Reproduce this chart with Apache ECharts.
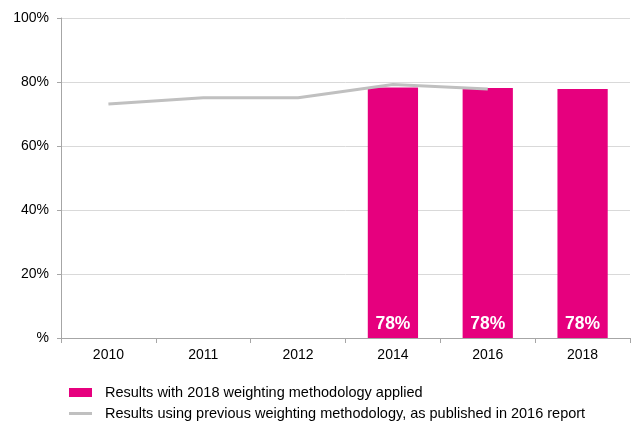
<!DOCTYPE html>
<html><head><meta charset="utf-8">
<script src="https://cdn.jsdelivr.net/npm/echarts@6/dist/echarts.min.js"></script>
<style>html,body{margin:0;padding:0;background:#fff}#c{width:631px;height:421px}</style>
</head><body><div id="c"></div>
<script>
var categories = ['2010','2011','2012','2014','2016','2018'];
var barValues = [null, null, null, 78.3, 78.1, 77.8];
var barLabels = ['', '', '', '78%', '78%', '78%'];
var lineValues = [73.1, 75.1, 75.1, 79.2, 77.8, null];
var yTicks = {0:'%',20:'20%',40:'40%',60:'60%',80:'80%',100:'100%'};
var barName = 'Results with 2018 weighting methodology applied';
var lineName = 'Results using previous weighting methodology, as published in 2016 report';

var font = 'Liberation Sans, Arial, sans-serif';
var chart = echarts.init(document.getElementById('c'));
chart.setOption({
  animation: false,
  textStyle: {fontFamily: font},
  grid: {left: 61, right: 1, top: 18, bottom: 83},
  legend: [
    {
      left: 64, top: 380, itemGap: 8, itemWidth: 23, itemHeight: 9,
      textStyle: {fontSize: 14.5, color: '#000', fontFamily: font, padding: [0, 0, 0, 8]},
      data: [{name: barName, icon: 'rect'}]
    },
    {
      left: 64, top: 401, itemGap: 8, itemWidth: 23, itemHeight: 3,
      textStyle: {fontSize: 14.5, color: '#000', fontFamily: font, padding: [0, 0, 0, 8]},
      data: [{name: lineName, icon: 'rect'}]
    }
  ],
  xAxis: {
    type: 'category', data: categories,
    axisLine: {lineStyle: {color: '#a6a6a6', width: 1}},
    axisTick: {show: true, length: 5, lineStyle: {color: '#a6a6a6'}},
    axisLabel: {color: '#000', fontSize: 14, margin: 10}
  },
  yAxis: {
    type: 'value', min: 0, max: 100, interval: 20,
    axisLine: {show: true, lineStyle: {color: '#a6a6a6'}},
    axisTick: {show: true, inside: false, length: 4, lineStyle: {color: '#a6a6a6'}},
    splitLine: {lineStyle: {color: '#d9d9d9'}},
    axisLabel: {color: '#000', fontSize: 14, margin: 12, formatter: function(v){return yTicks[v];}}
  },
  series: [
    {
      name: barName, type: 'bar', data: barValues, barWidth: '53%',
      itemStyle: {color: '#E6007E'},
      label: {show: true, position: 'insideBottom', distance: 5, color: '#fff', fontSize: 17.5, fontWeight: 'bold',
        formatter: function(p){return barLabels[p.dataIndex];}}
    },
    {
      name: lineName, type: 'line', data: lineValues, symbol: 'none',
      lineStyle: {color: '#c0c0c0', width: 3}, itemStyle: {color: '#c0c0c0'}
    }
  ]
});
</script></body></html>
